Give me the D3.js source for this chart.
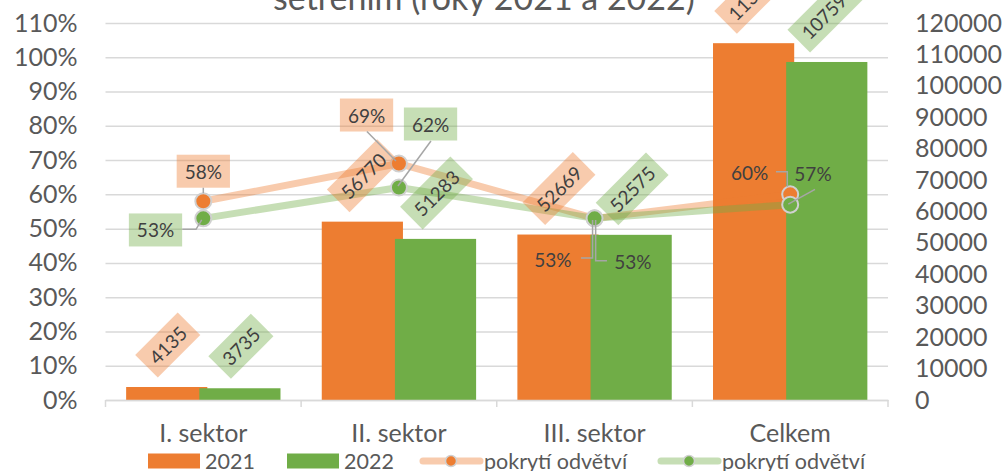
<!DOCTYPE html>
<html>
<head>
<meta charset="utf-8">
<script src="https://cdn.jsdelivr.net/npm/d3@7"></script>
<style>
  html, body { margin: 0; padding: 0; background: #fff; }
  svg { display: block; font-family: Lato, "Open Sans", sans-serif; }
</style>
</head>
<body>
<svg id="chart" width="1005" height="471"></svg>
<script>
// Sectors and the two survey years
const categories = ["I. sektor", "II. sektor", "III. sektor", "Celkem"];
const count2021 = [4135, 56770, 52669, 113574];
const count2022 = [3735, 51283, 52575, 107593];
const coverage2021 = [0.58, 0.69, 0.53, 0.60];
const coverage2022 = [0.53, 0.62, 0.53, 0.57];
const pctTicks = [0, 0.1, 0.2, 0.3, 0.4, 0.5, 0.6, 0.7, 0.8, 0.9, 1.0, 1.1];
const countTicks = [0, 10000, 20000, 30000, 40000, 50000, 60000, 70000, 80000, 90000, 100000, 110000, 120000];
const legendLabels = ["2021", "2022", "pokrytí odvětví", "pokrytí odvětví"];
const titleText = "šetřením (roky 2021 a 2022)";

(function draw() {
const ORANGE = "#ED7D31", GREEN = "#70AD47";
const AXIS_TEXT = "#595959", LABEL_TEXT = "#404040", GRID = "#d9d9d9", LEADER = "#a6a6a6";

const svg = d3.select("#chart");
const plotLeft = 105.5, plotRight = 888, plotTop = 23, plotBottom = 400;

const x = d3.scaleBand().domain(categories).range([plotLeft, plotRight]);
const yPct = d3.scaleLinear().domain([0, 1.1]).range([plotBottom, plotTop]);
const yCnt = d3.scaleLinear().domain([0, 120000]).range([plotBottom, plotTop]);

// title (last line of the heading)
svg.append("text")
  .attr("x", 484).attr("y", 10)
  .attr("text-anchor", "middle")
  .attr("font-size", 34).attr("fill", AXIS_TEXT)
  .text(titleText);

// horizontal gridlines on the percentage scale
const grid = svg.append("g").attr("transform", `translate(${plotLeft},0)`)
  .call(d3.axisLeft(yPct).tickValues(pctTicks).tickSize(-(plotRight - plotLeft)).tickFormat(""));
grid.select(".domain").remove();
grid.selectAll("line").attr("stroke", GRID).attr("stroke-width", 1.5);

// left axis (percent)
const axL = svg.append("g").attr("transform", `translate(${plotLeft},0)`)
  .call(d3.axisLeft(yPct).tickValues(pctTicks).tickSize(0).tickPadding(28).tickFormat(d3.format(".0%")));
axL.select(".domain").remove();
axL.selectAll("text").attr("font-size", 25).attr("fill", AXIS_TEXT);
axL.attr("font-family", null);

// right axis (counts)
const axR = svg.append("g").attr("transform", `translate(${plotRight},0)`)
  .call(d3.axisRight(yCnt).tickValues(countTicks).tickSize(0).tickPadding(27).tickFormat(d3.format("d")));
axR.select(".domain").remove();
axR.selectAll("text").attr("font-size", 25).attr("fill", AXIS_TEXT);
axR.attr("font-family", null);

// bars
const bw = x.bandwidth() * 0.415;
const shift = x.bandwidth() * 0.187;
const barSeries = [
  { values: count2021, color: ORANGE, off: -shift },
  { values: count2022, color: GREEN, off: shift }
];
barSeries.forEach(s => {
  svg.append("g").selectAll("rect").data(categories).join("rect")
    .attr("x", (c) => x(c) + x.bandwidth() / 2 + s.off - bw / 2)
    .attr("width", bw)
    .attr("y", (c, i) => yCnt(s.values[i]))
    .attr("height", (c, i) => plotBottom - yCnt(s.values[i]))
    .attr("fill", s.color);
});

// bottom axis with category labels
const axB = svg.append("g").attr("transform", `translate(0,${plotBottom})`)
  .call(d3.axisBottom(x).tickSize(0));
axB.attr("font-family", null);
axB.select(".domain").attr("stroke", GRID).attr("stroke-width", 1.5);
axB.selectAll("text").attr("font-size", 25).attr("fill", AXIS_TEXT)
  .attr("y", 33).attr("dy", "0.35em");
const bounds = categories.map(c => x(c)).concat([x.range()[1]]);
axB.selectAll(".bound").data(bounds).join("line")
  .attr("x1", d => d).attr("x2", d => d).attr("y1", 0).attr("y2", 7)
  .attr("stroke", GRID).attr("stroke-width", 1.5);

// coverage lines with markers
const cx = (c) => x(c) + x.bandwidth() / 2;
const lineSeries = [
  { values: coverage2021, color: ORANGE },
  { values: coverage2022, color: GREEN }
];
lineSeries.forEach(s => {
  const line = d3.line().x((d, i) => cx(categories[i])).y(d => yPct(d));
  svg.append("path").datum(s.values)
    .attr("d", line).attr("fill", "none")
    .attr("stroke", s.color).attr("stroke-opacity", 0.4)
    .attr("stroke-width", 7).attr("stroke-linejoin", "round").attr("stroke-linecap", "round");
  svg.append("g").selectAll("circle").data(s.values).join("circle")
    .attr("cx", (d, i) => cx(categories[i])).attr("cy", d => yPct(d))
    .attr("r", 8).attr("fill", s.color)
    .attr("stroke", "#d0d0d0").attr("stroke-width", 2);
});

// rotated value labels above the bars
const labelFont = 19;
barSeries.forEach(s => {
  categories.forEach((c, i) => {
    const v = s.values[i];
    const g = svg.append("g");
    const t = g.append("text").attr("text-anchor", "middle").attr("dominant-baseline", "central")
      .attr("font-size", labelFont).attr("fill", LABEL_TEXT).text(String(v));
    const tw = t.node().getComputedTextLength();
    const w = tw + 16, h = 32;
    const half = (w + h) / (2 * Math.SQRT2);
    const bx = cx(c) + s.off + 1;
    const by = yCnt(v) - 9.5 - half;
    g.attr("transform", `translate(${bx},${by}) rotate(-45)`);
    g.insert("rect", "text")
      .attr("x", -w / 2).attr("y", -h / 2).attr("width", w).attr("height", h)
      .attr("fill", s.color).attr("fill-opacity", 0.4);
  });
});

// percentage labels: text offset from the point, optional box, leader polyline
const pctLayout = [
  [ // 2021
    { dx: 0, dy: -30, box: true, leader: [[0, -13.5], [0, -8]] },
    { dx: -32.4, dy: -48.5, box: true, leader: [[-32, -32], [-3, -2.5]] },
    { dx: -41.6, dy: 41, box: false, leader: [[-13.6, 39.6], [-2, 39.6], [-2, 1.6]] },
    { dx: -40.5, dy: -21.7, box: false, leader: [[-14.2, -22.7], [-2.9, -22.7], [-2.9, -7.7]] }
  ],
  [ // 2022
    { dx: -47.8, dy: 11.6, box: true, leader: [[-21, 11], [-7.3, 11], [-1.6, 1.6]] },
    { dx: 31.6, dy: -63.5, box: true, leader: [[32, -46.5], [-1, -1.5]] },
    { dx: 38.4, dy: 43, box: false, leader: [[12.4, 42.3], [1.1, 42.3], [1.1, 1.6]] },
    { dx: 22.8, dy: -31.6, box: false, leader: [[24.8, -15.3], [-1.9, -0.6]] }
  ]
];
const pctFmt = d3.format(".0%");
lineSeries.forEach((s, si) => {
  s.values.forEach((v, i) => {
    const px = cx(categories[i]), py = yPct(v);
    const L = pctLayout[si][i];
    const g = svg.append("g");
    const t = g.append("text")
      .attr("x", px + L.dx).attr("y", py + L.dy)
      .attr("text-anchor", "middle").attr("dominant-baseline", "central")
      .attr("font-size", labelFont).attr("fill", LABEL_TEXT).text(pctFmt(v));
    if (L.box) {
      const tw = t.node().getComputedTextLength();
      const w = tw + 16, h = 33;
      g.insert("rect", "text")
        .attr("x", px + L.dx - w / 2).attr("y", py + L.dy - h / 2)
        .attr("width", w).attr("height", h)
        .attr("fill", s.color).attr("fill-opacity", 0.4);
    }
    svg.append("polyline")
      .attr("points", L.leader.map(p => `${px + p[0]},${py + p[1]}`).join(" "))
      .attr("fill", "none").attr("stroke", LEADER).attr("stroke-width", 1.5);
  });
});

// legend
const legendY = 461;
const legend = svg.append("g").attr("font-size", 21.5).attr("fill", AXIS_TEXT);
[[148, ORANGE], [287, GREEN]].forEach(([lx, col], k) => {
  legend.append("rect").attr("x", lx).attr("y", legendY - 7.5).attr("width", 52).attr("height", 15).attr("fill", col);
  legend.append("text").attr("x", lx + 57).attr("y", legendY).attr("dominant-baseline", "central").text(legendLabels[k]);
});
[[423, ORANGE], [661, GREEN]].forEach(([lx, col], k) => {
  legend.append("line").attr("x1", lx).attr("x2", lx + 57).attr("y1", legendY).attr("y2", legendY)
    .attr("stroke", col).attr("stroke-opacity", 0.4).attr("stroke-width", 7).attr("stroke-linecap", "round");
  legend.append("circle").attr("cx", lx + 28).attr("cy", legendY).attr("r", 5.5)
    .attr("fill", col).attr("stroke", "#d0d0d0").attr("stroke-width", 1.5);
  legend.append("text").attr("x", lx + 61).attr("y", legendY).attr("dominant-baseline", "central").text(legendLabels[k + 2]);
});
})();
</script>
</body>
</html>
